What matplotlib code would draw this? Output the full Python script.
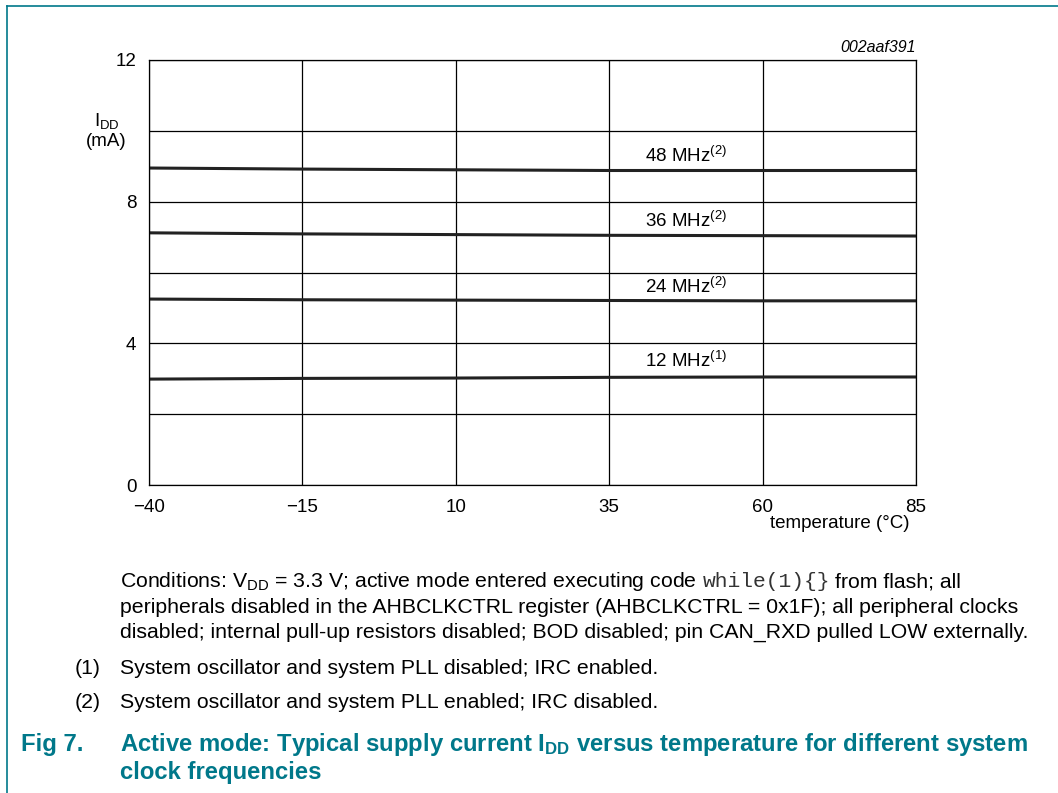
import matplotlib
matplotlib.use("Agg")
import matplotlib.pyplot as plt
from matplotlib.lines import Line2D

plt.rcParams['font.family'] = ['Liberation Sans', 'DejaVu Sans']
plt.rcParams['mathtext.fontset'] = 'custom'
plt.rcParams['mathtext.rm'] = 'Liberation Sans'
plt.rcParams['mathtext.it'] = 'Liberation Sans:italic'
plt.rcParams['mathtext.bf'] = 'Liberation Sans:bold'

# ---- data ----
temperature = [-40, -15, 10, 35, 60, 85]
idd_48 = [8.95, 8.92, 8.90, 8.88, 8.88, 8.88]
idd_36 = [7.12, 7.09, 7.07, 7.05, 7.04, 7.03]
idd_24 = [5.25, 5.23, 5.22, 5.21, 5.20, 5.20]
idd_12 = [2.99, 3.01, 3.02, 3.04, 3.05, 3.05]
series = [idd_48, idd_36, idd_24, idd_12]
labels = ["48 MHz$^{\\mathregular{(2)}}$", "36 MHz$^{\\mathregular{(2)}}$",
          "24 MHz$^{\\mathregular{(2)}}$", "12 MHz$^{\\mathregular{(1)}}$"]
label_y = [9.3, 7.45, 5.6, 3.5]
label_x = 47.5
xticks = [-40, -15, 10, 35, 60, 85]
xticklabels = ["\u221240", "\u221215", "10", "35", "60", "85"]
yticks = [0, 4, 8, 12]

W, H = 1058, 793
fig = plt.figure(figsize=(W / 100, H / 100), dpi=100)
teal = "#00788a"

def fx(px):
    return px / W

def fy(py):
    return 1 - py / H

# frame lines
fig.add_artist(Line2D([fx(7), fx(7)], [fy(6), 0], color=teal, lw=1.2, transform=fig.transFigure))
fig.add_artist(Line2D([fx(7), 1], [fy(6), fy(6)], color=teal, lw=1.2, transform=fig.transFigure))

ax = fig.add_axes([fx(149), fy(485), fx(916) - fx(149), (485 - 60) / H])
ax.set_xlim(-40, 85)
ax.set_ylim(0, 12)
for s in series:
    ax.plot(temperature, s, color="#222222", lw=2.2, solid_capstyle="butt")
for lab, ly in zip(labels, label_y):
    ax.text(label_x, ly, lab, ha="center", va="center", fontsize=13.5)

tfs = 13.5
ax.set_xticks(xticks)
ax.set_xticklabels(xticklabels, fontsize=tfs)
ax.set_yticks(yticks)
ax.set_yticklabels([str(v) for v in yticks], fontsize=tfs)
ax.set_yticks([2, 6, 10], minor=True)
ax.tick_params(which="both", length=0)
ax.tick_params(axis="x", pad=10)
ax.tick_params(axis="y", pad=9)
ax.grid(True, which="both", color="black", lw=0.9)
ax.set_axisbelow(True)
for sp in ax.spines.values():
    sp.set_linewidth(0.9)

fig.text(fx(916), fy(47), "002aaf391", ha="right", va="center", fontsize=11.5, style="italic")
fig.text(fx(107), fy(121), "I$_{\\mathregular{DD}}$", ha="center", va="center", fontsize=tfs)
fig.text(fx(106), fy(141), "(mA)", ha="center", va="center", fontsize=tfs)
fig.text(fx(909), fy(523), "temperature (\u00b0C)", ha="right", va="center", fontsize=tfs)

fs = 15.3
renderer = fig.canvas.get_renderer()
p1 = fig.text(fx(120), fy(587), "Conditions: V$_{\\mathregular{DD}}$ = 3.3 V; active mode entered executing code",
              ha="left", va="baseline", fontsize=fs)
bb = p1.get_window_extent(renderer)
p2 = fig.text((bb.x1 + 6) / W, fy(587), "while(1){}", ha="left", va="baseline", fontsize=fs,
              family="Liberation Mono", color="#333333")
bb2 = p2.get_window_extent(renderer)
fig.text((bb2.x1 + 5) / W, fy(587), "from flash; all", ha="left", va="baseline", fontsize=fs)
fig.text(fx(120), fy(613), "peripherals disabled in the AHBCLKCTRL register (AHBCLKCTRL = 0x1F); all peripheral clocks",
         ha="left", va="baseline", fontsize=fs)
fig.text(fx(120), fy(638), "disabled; internal pull-up resistors disabled; BOD disabled; pin CAN_RXD pulled LOW externally.",
         ha="left", va="baseline", fontsize=fs)
fig.text(fx(75), fy(668), "(1)", ha="left", va="center", fontsize=fs)
fig.text(fx(120), fy(668), "System oscillator and system PLL disabled; IRC enabled.", ha="left", va="center", fontsize=fs)
fig.text(fx(75), fy(703), "(2)", ha="left", va="center", fontsize=fs)
fig.text(fx(120), fy(703), "System oscillator and system PLL enabled; IRC disabled.", ha="left", va="center", fontsize=fs)

tts = 17.2
fig.text(fx(21), fy(745), "Fig 7.", ha="left", va="center", fontsize=tts, weight="bold", color=teal)
fig.text(fx(120), fy(745), "Active mode: Typical supply current I$_{\\mathbf{DD}}$ versus temperature for different system",
         ha="left", va="center", fontsize=tts, weight="bold", color=teal)
fig.text(fx(120), fy(773), "clock frequencies", ha="left", va="center", fontsize=tts, weight="bold", color=teal)

fig.savefig("out.png", dpi=100)
